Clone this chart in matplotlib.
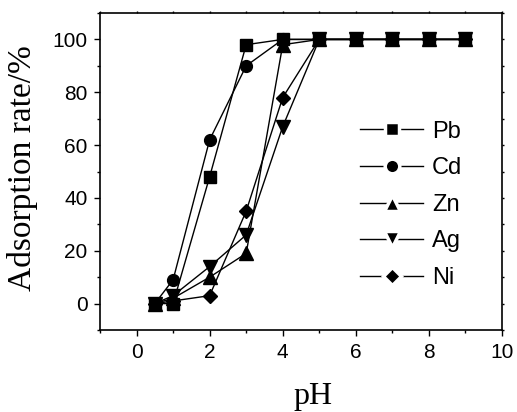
import matplotlib
matplotlib.use("Agg")
import matplotlib.pyplot as plt
from matplotlib.ticker import MultipleLocator

ph = [0.5, 1, 2, 3, 4, 5, 6, 7, 8, 9]
pb = [0, 0, 48, 98, 100, 100, 100, 100, 100, 100]
cd = [0, 9, 62, 90, 100, 100, 100, 100, 100, 100]
zn = [0, 2, 10, 19, 98, 100, 100, 100, 100, 100]
ag = [0, 3, 14, 26, 67, 100, 100, 100, 100, 100]
ni = [0, 1, 3, 35, 78, 100, 100, 100, 100, 100]
labels = ["Pb", "Cd", "Zn", "Ag", "Ni"]
series = [pb, cd, zn, ag, ni]
markers = ["s", "o", "^", "v", "D"]
msizes = [8, 8.5, 9.5, 9.5, 7.5]
leg_msizes = [9.5, 10.5, 11.5, 11.5, 9.5]

fig = plt.figure(figsize=(5.17, 4.12), dpi=100)
ax = fig.add_axes([100/517, 82/412, 402/517, 317/412])

for ys, lab, m, ms in zip(series, labels, markers, msizes):
    ax.plot(ph, ys, color="black", lw=1.0, marker=m, markersize=ms,
            markerfacecolor="black", markeredgecolor="black", label=lab)

ax.set_xlim(-1, 10)
ax.set_ylim(-10, 110)
ax.xaxis.set_major_locator(MultipleLocator(2))
ax.xaxis.set_minor_locator(MultipleLocator(1))
ax.yaxis.set_major_locator(MultipleLocator(20))
ax.yaxis.set_minor_locator(MultipleLocator(10))

tickfont = "Liberation Sans"
ax.tick_params(axis="both", which="major", direction="out", length=4, width=1,
               labelsize=15, pad=5)
ax.tick_params(axis="both", which="minor", direction="out", length=2.5, width=1)
ax.tick_params(which="both", top=True, right=True)
for spine in ax.spines.values():
    spine.set_linewidth(1.2)
for t in ax.xaxis.get_major_ticks() + ax.xaxis.get_minor_ticks():
    t.tick2line.set_markersize(1.5)
for t in ax.yaxis.get_major_ticks() + ax.yaxis.get_minor_ticks():
    t.tick2line.set_markersize(1.5)
plt.setp(ax.get_xticklabels(), fontfamily=tickfont)
plt.setp(ax.get_yticklabels(), fontfamily=tickfont)

ax.set_xlabel("pH", fontfamily="Liberation Serif", fontsize=23)
ax.set_ylabel("Adsorption rate/%", fontfamily="Liberation Serif", fontsize=24)
ax.xaxis.set_label_coords(0.53, -0.165)
ax.yaxis.set_label_coords(-0.155, 0.51)

leg = ax.legend(loc="center left", bbox_to_anchor=(0.647, 0.395), frameon=False,
                prop={"family": tickfont, "size": 17}, borderpad=0, borderaxespad=0,
                handlelength=2.67, handletextpad=0.38, labelspacing=0.62)
for h, lm in zip(leg.legend_handles, leg_msizes):
    h.set_markersize(lm)
    h.set_markeredgecolor("white")
    h.set_markeredgewidth(2.5)
    h.set_linewidth(1.0)

fig.savefig("out.png", dpi=100)
